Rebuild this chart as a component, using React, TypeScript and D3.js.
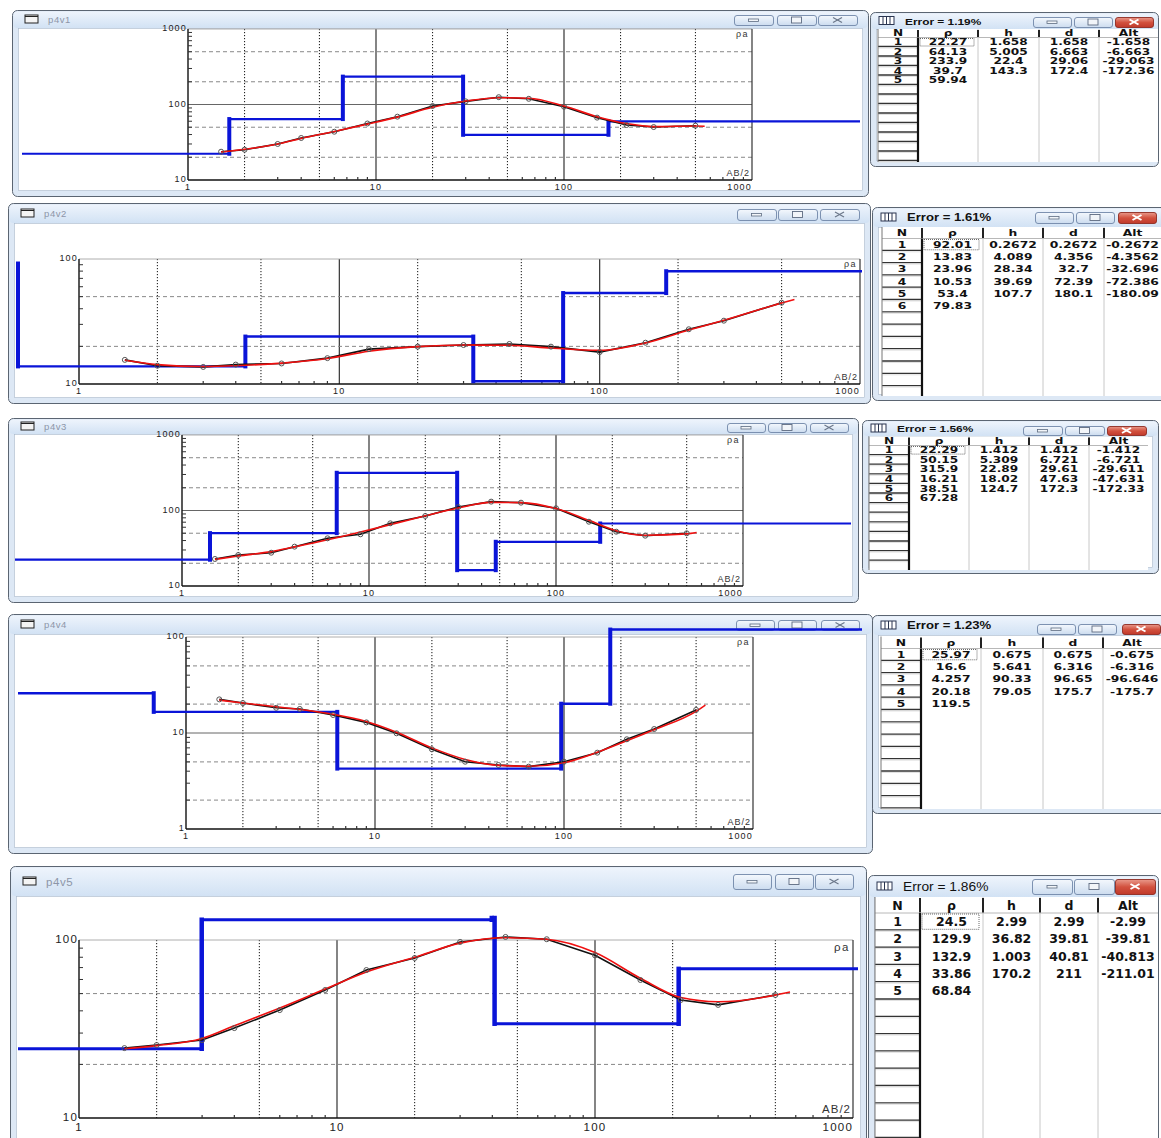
import React from "react";
import * as d3 from "d3";

// ---------------- DATA ----------------
// Panel 1 (p4v1)
const AB_P1 = [1.5, 2, 3, 4, 6, 9, 13, 20, 30, 45, 65, 100, 150, 215, 300, 500];
const OBS_P1 = [23.7, 25.2, 30, 36, 43.6, 56, 69, 95.5, 110, 125, 119, 93.5, 67, 53.5, 50.3, 52.4];
const FITAB_P1 = [1.5, 2, 3, 4, 6, 9, 13, 20, 30, 45, 65, 100, 150, 215, 300, 500, 560];
const FIT_P1 = [23.5, 25.5, 30, 35.5, 44, 55, 68, 92, 111, 123, 121, 95.5, 69, 56, 51, 52, 51.5];
const RHO_P1 = [22.27, 64.13, 233.9, 39.7, 59.94];
const H_P1 = [1.658, 5.005, 22.4, 143.3];
const D_P1 = [1.658, 6.663, 29.06, 172.4];
const ALT_P1 = [-1.658, -6.663, -29.063, -172.36];
const ERR_P1 = "Error = 1.19%";

// Panel 2 (p4v2)
const AB_P2 = [1.5, 2, 3, 4, 6, 9, 13, 20, 30, 45, 65, 100, 150, 220, 300, 500];
const OBS_P2 = [15.6, 14.0, 13.7, 14.3, 14.6, 16.1, 19.0, 19.9, 20.5, 20.9, 19.9, 18.0, 21.4, 27.4, 32.1, 44.7];
const FITAB_P2 = [1.5, 2, 3, 4, 6, 9, 13, 20, 30, 45, 65, 100, 150, 220, 300, 500, 560];
const FIT_P2 = [15.5, 14.3, 13.8, 14.0, 14.7, 16.0, 18.3, 19.9, 20.5, 20.4, 19.4, 18.6, 21.3, 27, 32.3, 44.5, 47.5];
const RHO_P2 = [92.01, 13.83, 23.96, 10.53, 53.4, 79.83];
const H_P2 = [0.2672, 4.089, 28.34, 39.69, 107.7];
const D_P2 = [0.2672, 4.356, 32.7, 72.39, 180.1];
const ALT_P2 = [-0.2672, -4.3562, -32.696, -72.386, -180.09];
const ERR_P2 = "Error = 1.61%";

// Panel 3 (p4v3)
const AB_P3 = [1.5, 2, 3, 4, 6, 9, 13, 20, 30, 45, 65, 100, 150, 210, 300, 500];
const OBS_P3 = [22.8, 25.7, 27.6, 33.2, 42.8, 48.4, 67.6, 84.6, 111, 131, 127, 107, 71, 52.4, 46.4, 49.9];
const FITAB_P3 = [1.5, 2, 3, 4, 6, 9, 13, 20, 30, 45, 65, 100, 150, 210, 300, 500, 565];
const FIT_P3 = [22.5, 25, 28.5, 33, 41, 52, 65, 85, 108, 128, 127, 106, 74, 54, 47, 49, 51];
const RHO_P3 = [22.29, 50.15, 315.9, 16.21, 38.51, 67.28];
const H_P3 = [1.412, 5.309, 22.89, 18.02, 124.7];
const D_P3 = [1.412, 6.721, 29.61, 47.63, 172.3];
const ALT_P3 = [-1.412, -6.721, -29.611, -47.631, -172.33];
const ERR_P3 = "Error = 1.56%";

// Panel 4 (p4v4)
const AB_P4 = [1.5, 2, 3, 4, 6, 9, 13, 20, 30, 45, 65, 100, 150, 215, 300, 500];
const OBS_P4 = [22.4, 20.5, 18.3, 17.8, 15.4, 12.9, 9.93, 6.77, 5.02, 4.64, 4.46, 5.02, 6.24, 8.6, 11.0, 17.4];
const FITAB_P4 = [1.5, 2, 3, 4, 6, 9, 13, 20, 30, 45, 65, 100, 150, 215, 300, 500, 560];
const FIT_P4 = [22, 20.5, 18.8, 17.6, 15.7, 13.2, 10.2, 7.0, 5.3, 4.6, 4.5, 4.9, 6.3, 8.3, 10.8, 16.8, 19.5];
const RHO_P4 = [25.97, 16.6, 4.257, 20.18, 119.5];
const H_P4 = [0.675, 5.641, 90.33, 79.05];
const D_P4 = [0.675, 6.316, 96.65, 175.7];
const ALT_P4 = [-0.675, -6.316, -96.646, -175.7];
const ERR_P4 = "Error = 1.23%";

// Panel 5 (p4v5)
const AB_P5 = [1.5, 2, 3, 4, 6, 9, 13, 20, 30, 45, 65, 100, 150, 215, 300, 500];
const OBS_P5 = [24.7, 25.7, 27.4, 32, 40.4, 52.4, 67.8, 79.2, 97.5, 104, 101, 82, 59.6, 46, 43.2, 49.1];
const FITAB_P5 = [1.5, 2, 3, 4, 6, 9, 13, 20, 30, 45, 65, 100, 150, 215, 300, 500, 570];
const FIT_P5 = [24.5, 25.5, 28, 33, 41.5, 53, 66, 80, 96, 103, 101, 85, 61, 47.5, 45, 49, 51];
const RHO_P5 = [24.5, 129.9, 132.9, 33.86, 68.84];
const H_P5 = [2.99, 36.82, 1.003, 170.2];
const D_P5 = [2.99, 39.81, 40.81, 211];
const ALT_P5 = [-2.99, -39.81, -40.813, -211.01];
const ERR_P5 = "Error = 1.86%";

const TITLES = ["p4v1", "p4v2", "p4v3", "p4v4", "p4v5"];
const HEADS = ["N", "ρ", "h", "d", "Alt"];
const X_LABELS = [1, 10, 100, 1000];

// ---------------- LAYOUT ----------------
type Win = { x: number; y: number; w: number; h: number; th: number };
type Btn = { xs: number[]; y: number; w: number; h: number };

const PLOTS = [
  { win: { x: 12, y: 10, w: 856, h: 186, th: 18 }, tfs: 9.5, btn: { xs: [734, 777, 818], y: 15, w: 39, h: 10 },
    x0: 188, x1: 752, yTop: 29, yBot: 180, yDom: [10, 1000], fs: 9, cl: 22, cr: 860, hw: 2.2, vw: 4 },
  { win: { x: 8, y: 203, w: 862, h: 200, th: 20 }, tfs: 9.5, btn: { xs: [737, 778, 820], y: 209, w: 39, h: 11 },
    x0: 79, x1: 860, yTop: 259, yBot: 384, yDom: [10, 100], fs: 9, cl: 18, cr: 862, hw: 2.4, vw: 4 },
  { win: { x: 8, y: 418, w: 850, h: 184, th: 16 }, tfs: 9.5, btn: { xs: [727, 768, 810], y: 423, w: 38, h: 9 },
    x0: 182, x1: 743, yTop: 435, yBot: 586, yDom: [10, 1000], fs: 9, cl: 15, cr: 851, hw: 2.2, vw: 4 },
  { win: { x: 8, y: 614, w: 864, h: 239, th: 20 }, tfs: 9.5, btn: { xs: [736, 778, 821], y: 620, w: 38, h: 10 },
    x0: 186, x1: 753, yTop: 637, yBot: 829, yDom: [1, 100], fs: 9, cl: 18, cr: 862, hw: 2.4, vw: 4 },
  { win: { x: 10, y: 866, w: 856, h: 300, th: 30 }, tfs: 11.5, btn: { xs: [733, 775, 815], y: 874, w: 38, h: 15 },
    x0: 79, x1: 853, yTop: 940, yBot: 1118, yDom: [10, 100], fs: 11.5, cl: 18, cr: 858, hw: 3, vw: 4.5 },
];

const TABLES = [
  { win: { x: 870, y: 12, w: 288, h: 154, th: 17 }, tfs: 9.5, tsx: 1.25, tbold: true, btn: { xs: [1033, 1074, 1115], y: 17, w: 38, h: 10 },
    cols: [878, 918, 978, 1039, 1099, 1158], headTop: 29, headH: 8.5, rowH: 9.5, bottom: 162, fs: 9, sx: 1.35, bold: true },
  { win: { x: 872, y: 207, w: 300, h: 193, th: 20 }, tfs: 10.5, tsx: 1.25, tbold: true, btn: { xs: [1035, 1076, 1118], y: 212, w: 38, h: 11 },
    cols: [882, 922, 983, 1043, 1104, 1161], headTop: 227, headH: 11.5, rowH: 12.3, bottom: 396, fs: 9.5, sx: 1.3, bold: true },
  { win: { x: 862, y: 420, w: 296, h: 153, th: 16 }, tfs: 9.5, tsx: 1.25, tbold: true, btn: { xs: [1023, 1065, 1107], y: 426, w: 39, h: 9 },
    cols: [869, 909, 969, 1029, 1089, 1148], headTop: 436.5, headH: 9, rowH: 9.6, bottom: 570, fs: 9, sx: 1.35, bold: true },
  { win: { x: 872, y: 615, w: 300, h: 198, th: 20 }, tfs: 10.5, tsx: 1.25, tbold: true, btn: { xs: [1037, 1078, 1122], y: 624, w: 38, h: 10 },
    cols: [881, 921, 981, 1043, 1103, 1161], headTop: 636.5, headH: 12, rowH: 12.3, bottom: 809, fs: 9.5, sx: 1.3, bold: true },
  { win: { x: 868, y: 875, w: 290, h: 290, th: 22 }, tfs: 12, tsx: 1.15, tbold: false, btn: { xs: [1032, 1074, 1115], y: 879, w: 40, h: 15 },
    cols: [875, 920, 983, 1040, 1098, 1158], headTop: 897, headH: 16, rowH: 17.3, bottom: 1160, fs: 12.5, sx: 1.0, bold: true },
];

const fmt = (v: number | undefined) => (v === undefined ? "" : String(v));

// ---------------- COMPONENTS ----------------
function Buttons({ btn, red }: { btn: Btn; red: boolean }) {
  return (
    <g>
      {btn.xs.map((bx, i) => {
        const cx = bx + btn.w / 2;
        const cy = btn.y + btn.h / 2;
        const isRed = i === 2 && red;
        return (
          <g key={i}>
            <rect x={bx + 0.5} y={btn.y + 0.5} width={btn.w} height={btn.h} rx={2.5}
              fill={isRed ? "url(#gRed)" : "url(#gBtn)"} stroke={isRed ? "#8d2a20" : "#7087a8"} strokeWidth={0.9} />
            {i === 0 && <rect x={cx - 5} y={cy - 1} width={10} height={2.5} fill="#f2f5f9" stroke="#5d6b80" strokeWidth={0.8} />}
            {i === 1 && <rect x={cx - 5} y={cy - 3} width={10} height={6} fill="#f2f5f9" stroke="#5d6b80" strokeWidth={0.9} />}
            {i === 2 && (
              <g stroke={isRed ? "#fff" : "#6b778a"} strokeWidth={isRed ? 2 : 1.2}>
                <line x1={cx - 4.5} y1={cy - 2.5} x2={cx + 4.5} y2={cy + 2.5} />
                <line x1={cx - 4.5} y1={cy + 2.5} x2={cx + 4.5} y2={cy - 2.5} />
              </g>
            )}
          </g>
        );
      })}
    </g>
  );
}

function WinFrame({ win }: { win: Win }) {
  return (
    <g>
      <rect x={win.x + 0.5} y={win.y + 0.5} width={win.w} height={win.h} rx={5} fill="#dde8f5" stroke="#5b6572" strokeWidth={1} />
      <rect x={win.x + 1.5} y={win.y + 1.5} width={win.w - 2} height={win.th - 1.5} rx={4} fill="url(#gTitle)" />
      <rect x={win.x + 6.5} y={win.y + win.th + 0.5} width={win.w - 12} height={win.h - win.th - 6} fill="#fff" stroke="#aab8ca" strokeWidth={0.6} />
    </g>
  );
}

function Plot({ idx, ab, obs, fitAb, fit, rho, depth }: any) {
  const c = PLOTS[idx];
  const win = c.win as Win;
  const xs = d3.scaleLog().domain([1, 1000]).range([c.x0, c.x1]);
  const ys = d3.scaleLog().domain(c.yDom).range([c.yBot, c.yTop]);
  const k0 = Math.round(Math.log10(c.yDom[0]));
  const k1 = Math.round(Math.log10(c.yDom[1]));
  const yDecs = d3.range(k0, k1 + 1).map((k) => Math.pow(10, k));
  const xDecs = [1, 10, 100, 1000];
  const mult = d3.range(2, 10);

  const xDot: number[] = [];
  const xMinor: number[] = [];
  xDecs.slice(0, 3).forEach((d) => mult.forEach((m) => (m === 2 || m === 5 ? xDot.push(m * d) : xMinor.push(m * d))));
  const yDash: number[] = [];
  const yMinor: number[] = [];
  yDecs.slice(0, -1).forEach((d) => mult.forEach((m) => { yMinor.push(m * d); if (m === 2 || m === 5) yDash.push(m * d); }));

  // blue layered model
  const clamp = (v: number) => Math.max(c.cl, Math.min(c.cr, v));
  const pts: [number, number][] = [];
  const verts: [number, number, number][] = [];
  let xp = c.cl;
  rho.forEach((r: number, i: number) => {
    const xn = i < depth.length ? clamp(xs(depth[i])) : c.cr;
    pts.push([xp, ys(r)]);
    pts.push([xn, ys(r)]);
    if (i < depth.length) verts.push([xn, ys(r), ys(rho[i + 1])]);
    xp = xn;
  });
  const bluePath = d3.line()(pts) as string;

  const fitPath = d3.line<number>()
    .x((_, i) => xs(fitAb[i]))
    .y((v) => ys(v))
    .curve(d3.curveMonotoneX)(fit) as string;
  const obsPath = d3.line<number>()
    .x((_, i) => xs(ab[i]))
    .y((v) => ys(v))(obs) as string;

  const ff = "Liberation Sans, Arial, sans-serif";
  return (
    <g>
      <WinFrame win={win} />
      <rect x={win.x + 13} y={win.y + win.th / 2 - 4} width={13} height={8} fill="#f4f4f4" stroke="#222" strokeWidth={1} />
      <line x1={win.x + 13} x2={win.x + 26} y1={win.y + win.th / 2 - 2.5} y2={win.y + win.th / 2 - 2.5} stroke="#222" strokeWidth={1} />
      <text x={win.x + 36} y={win.y + win.th / 2 + 0.5} dominantBaseline="central" fontSize={c.tfs} fontFamily={ff} fill="#8d96a8" letterSpacing={0.6}>{TITLES[idx]}</text>
      <Buttons btn={c.btn as Btn} red={false} />

      {/* grid */}
      {xDot.map((v) => (
        <line key={"xd" + v} x1={xs(v)} x2={xs(v)} y1={c.yTop} y2={c.yBot} stroke="#111" strokeWidth={1} strokeDasharray="1.2,1.8" />
      ))}
      {[10, 100].map((v) => (
        <line key={"xs" + v} x1={xs(v)} x2={xs(v)} y1={c.yTop} y2={c.yBot} stroke="#333" strokeWidth={1.2} />
      ))}
      {yDash.map((v) => (
        <line key={"yd" + v} x1={c.x0} x2={c.x1} y1={ys(v)} y2={ys(v)} stroke="#888" strokeWidth={1} strokeDasharray="4,3" />
      ))}
      {yDecs.slice(1, -1).map((v) => (
        <line key={"ys" + v} x1={c.x0} x2={c.x1} y1={ys(v)} y2={ys(v)} stroke="#666" strokeWidth={1} />
      ))}
      {/* frame */}
      <line x1={c.x0} x2={c.x1} y1={c.yTop} y2={c.yTop} stroke="#999" strokeWidth={0.8} />
      <line x1={c.x1} x2={c.x1} y1={c.yTop} y2={c.yBot} stroke="#333" strokeWidth={1.2} />
      <line x1={c.x0} x2={c.x0} y1={c.yTop} y2={c.yBot} stroke="#111" strokeWidth={1.4} />
      <line x1={c.x0} x2={c.x1} y1={c.yBot} y2={c.yBot} stroke="#111" strokeWidth={1.4} />
      {yMinor.map((v) => (
        <line key={"ym" + v} x1={c.x0} x2={c.x0 + 4} y1={ys(v)} y2={ys(v)} stroke="#333" strokeWidth={1} />
      ))}
      {xMinor.map((v) => (
        <line key={"xm" + v} x1={xs(v)} x2={xs(v)} y1={c.yBot} y2={c.yBot - 3} stroke="#333" strokeWidth={1.2} />
      ))}
      {/* labels */}
      {yDecs.map((v) => (
        <text key={"yl" + v} x={c.x0 - 1} y={ys(v) - 1} textAnchor="end" dominantBaseline="central" fontSize={c.fs} fontFamily={ff} fill="#222" letterSpacing={1.2}>{String(v)}</text>
      ))}
      {X_LABELS.map((v, i) => (
        <text key={"xl" + v} x={i === 3 ? c.x1 : xs(v)} y={c.yBot + c.fs * 0.75} textAnchor={i === 3 ? "end" : "middle"} dominantBaseline="central" fontSize={c.fs} fontFamily={ff} fill="#222" letterSpacing={1.2}>{String(v)}</text>
      ))}
      <text x={c.x1 - 3} y={c.yTop + c.fs * 0.6} textAnchor="end" dominantBaseline="central" fontSize={c.fs} fontFamily={ff} fill="#333" letterSpacing={1.5}>ρa</text>
      <text x={c.x1 - 2} y={c.yBot - c.fs * 0.75} textAnchor="end" dominantBaseline="central" fontSize={c.fs} fontFamily={ff} fill="#333" letterSpacing={1}>AB/2</text>

      {/* model */}
      <path d={bluePath} fill="none" stroke="#0a14d8" strokeWidth={c.hw} />
      {verts.map((v, i) => (
        <line key={"bv" + i} x1={v[0]} x2={v[0]} y1={v[1]} y2={v[2]} stroke="#0a14d8" strokeWidth={c.vw} strokeLinecap="square" />
      ))}
      {/* observed & fitted */}
      <path d={obsPath} fill="none" stroke="#111" strokeWidth={1.6} />
      <path d={fitPath} fill="none" stroke="#f01010" strokeWidth={1.6} />
      {ab.map((a: number, i: number) => (
        <circle key={"c" + i} cx={xs(a)} cy={ys(obs[i])} r={2.5} fill="none" stroke="#555" strokeWidth={1} />
      ))}
    </g>
  );
}

function Table({ idx, rho, h, d, alt, err }: any) {
  const c = TABLES[idx];
  const win = c.win as Win;
  const cols = c.cols;
  const bodyTop = c.headTop + c.headH;
  const nRows = Math.floor((c.bottom - bodyTop) / c.rowH);
  const rows = d3.range(nRows);
  const ff = "DejaVu Sans, Arial, sans-serif";
  const T = (txt: string, cx: number, cy: number, key: string, bold = c.bold) => (
    <text key={key} transform={`translate(${cx},${cy}) scale(${c.sx},1)`} textAnchor="middle" dominantBaseline="central"
      fontSize={c.fs} fontWeight={bold ? "bold" : "normal"} fontFamily={ff} fill="#111">{txt}</text>
  );
  const cells = (i: number) => [String(i + 1), fmt(rho[i]), fmt(h[i]), fmt(d[i]), fmt(alt[i])];
  const iy = win.y + win.th / 2;
  return (
    <g>
      <WinFrame win={win} />
      <rect x={win.x + 9} y={iy - 4} width={15} height={8} fill="#fff" stroke="#2a3550" strokeWidth={1} />
      {[0, 1, 2].map((k) => (
        <line key={k} x1={win.x + 13 + k * 3.5} x2={win.x + 13 + k * 3.5} y1={iy - 4} y2={iy + 4} stroke="#2a3550" strokeWidth={1} />
      ))}
      <text transform={`translate(${win.x + 35},${iy + 0.5}) scale(${c.tsx},1)`} dominantBaseline="central" fontSize={c.tfs} fontWeight={c.tbold ? "bold" : "normal"} fontFamily="Liberation Sans, Arial, sans-serif" fill="#111">{err}</text>
      <Buttons btn={c.btn as Btn} red={true} />

      <rect x={cols[0]} y={c.headTop} width={cols[5] - cols[0]} height={c.bottom - c.headTop} fill="#fff" />
      {/* column separators */}
      {[2, 3, 4].map((k) => (
        <line key={"cs" + k} x1={cols[k]} x2={cols[k]} y1={c.headTop} y2={c.bottom} stroke="#c8c8c8" strokeWidth={1} />
      ))}
      <line x1={cols[0]} x2={cols[5]} y1={bodyTop} y2={bodyTop} stroke="#b8b8b8" strokeWidth={1} />
      {[1, 2, 3, 4].map((k) => (
        <line key={"hs" + k} x1={cols[k]} x2={cols[k]} y1={c.headTop + 1} y2={bodyTop - 0.5} stroke="#222" strokeWidth={2} />
      ))}
      {/* N column row boxes */}
      {rows.map((i) => (
        <g key={"nr" + i}>
          <line x1={cols[0]} x2={cols[1]} y1={bodyTop + (i + 1) * c.rowH - 0.5} y2={bodyTop + (i + 1) * c.rowH - 0.5} stroke="#333" strokeWidth={1.3} />
          <line x1={cols[0]} x2={cols[1]} y1={bodyTop + (i + 1) * c.rowH + 1} y2={bodyTop + (i + 1) * c.rowH + 1} stroke="#e2e2e2" strokeWidth={1} />
        </g>
      ))}
      <line x1={cols[1]} x2={cols[1]} y1={bodyTop} y2={c.bottom} stroke="#111" strokeWidth={2.2} />
      <line x1={cols[0]} x2={cols[0]} y1={c.headTop} y2={c.bottom} stroke="#777" strokeWidth={1} />
      {/* focus rect */}
      <rect x={cols[1] + 2} y={bodyTop + 1} width={cols[2] - cols[1] - 6} height={c.rowH - 2} fill="none" stroke="#444" strokeWidth={0.8} strokeDasharray="1,1" />
      {/* header */}
      {HEADS.map((t, k) => T(t, (cols[k] + cols[k + 1]) / 2, c.headTop + c.headH / 2, "h" + k, true))}
      {/* body */}
      {rho.map((_: number, i: number) =>
        cells(i).map((t, k) => T(t, (cols[k] + cols[k + 1]) / 2, bodyTop + (i + 0.5) * c.rowH, `b${i}_${k}`))
      )}
    </g>
  );
}

export default function App() {
  return (
    <svg width={1161} height={1138} viewBox="0 0 1161 1138" style={{ position: "absolute", left: 0, top: 0, background: "#fff" }}>
      <defs>
        <linearGradient id="gTitle" x1="0" y1="0" x2="0" y2="1">
          <stop offset="0" stopColor="#eef4fc" />
          <stop offset="1" stopColor="#d2e2f4" />
        </linearGradient>
        <linearGradient id="gBtn" x1="0" y1="0" x2="0" y2="1">
          <stop offset="0" stopColor="#f4f8fd" />
          <stop offset="1" stopColor="#ccdcef" />
        </linearGradient>
        <linearGradient id="gRed" x1="0" y1="0" x2="0" y2="1">
          <stop offset="0" stopColor="#e9998b" />
          <stop offset="0.5" stopColor="#d2513e" />
          <stop offset="1" stopColor="#c0392b" />
        </linearGradient>
      </defs>
      <rect x={0} y={0} width={1161} height={1138} fill="#fff" />
      <Plot idx={0} ab={AB_P1} obs={OBS_P1} fitAb={FITAB_P1} fit={FIT_P1} rho={RHO_P1} depth={D_P1} />
      <Table idx={0} rho={RHO_P1} h={H_P1} d={D_P1} alt={ALT_P1} err={ERR_P1} />
      <Plot idx={1} ab={AB_P2} obs={OBS_P2} fitAb={FITAB_P2} fit={FIT_P2} rho={RHO_P2} depth={D_P2} />
      <Table idx={1} rho={RHO_P2} h={H_P2} d={D_P2} alt={ALT_P2} err={ERR_P2} />
      <Plot idx={2} ab={AB_P3} obs={OBS_P3} fitAb={FITAB_P3} fit={FIT_P3} rho={RHO_P3} depth={D_P3} />
      <Table idx={2} rho={RHO_P3} h={H_P3} d={D_P3} alt={ALT_P3} err={ERR_P3} />
      <Plot idx={3} ab={AB_P4} obs={OBS_P4} fitAb={FITAB_P4} fit={FIT_P4} rho={RHO_P4} depth={D_P4} />
      <Table idx={3} rho={RHO_P4} h={H_P4} d={D_P4} alt={ALT_P4} err={ERR_P4} />
      <Plot idx={4} ab={AB_P5} obs={OBS_P5} fitAb={FITAB_P5} fit={FIT_P5} rho={RHO_P5} depth={D_P5} />
      <Table idx={4} rho={RHO_P5} h={H_P5} d={D_P5} alt={ALT_P5} err={ERR_P5} />
    </svg>
  );
}
